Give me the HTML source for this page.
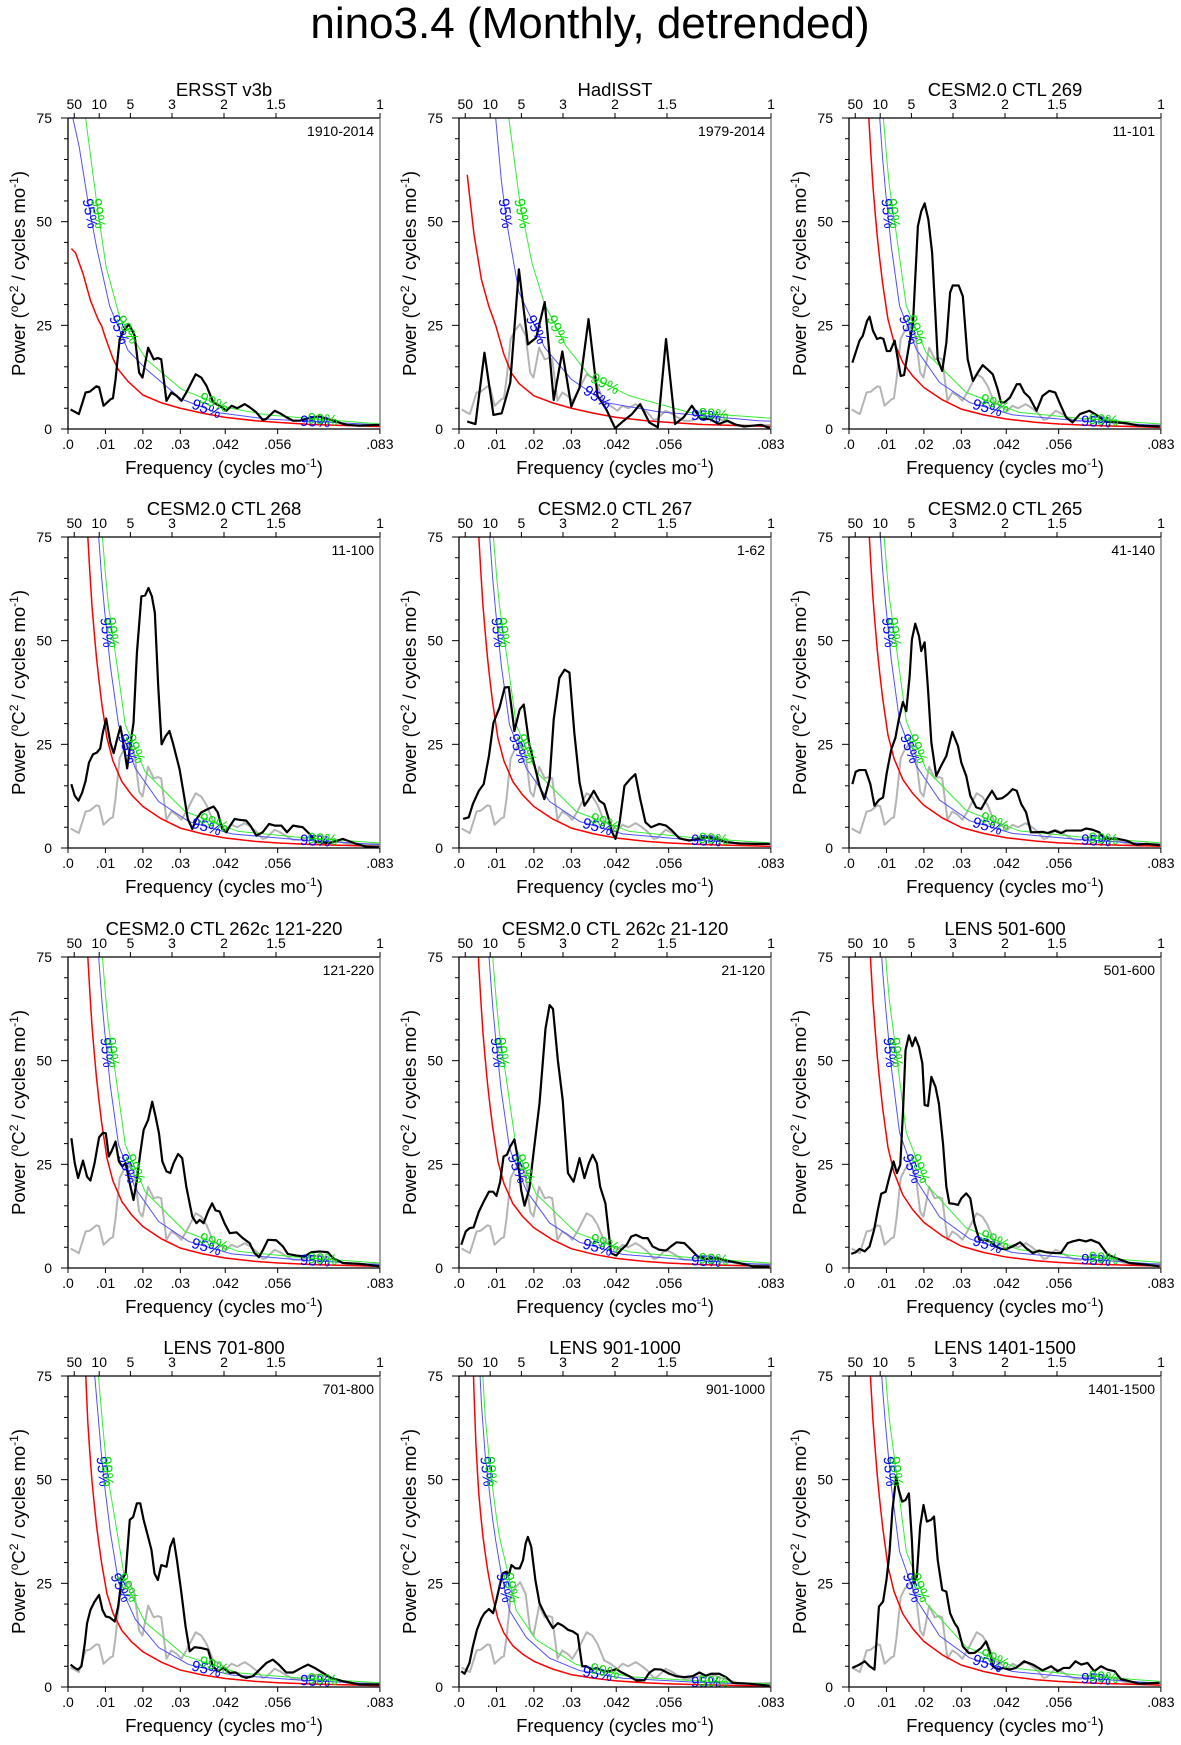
<!DOCTYPE html>
<html><head><meta charset="utf-8"><title>nino3.4 (Monthly, detrended)</title>
<style>
html,body{margin:0;padding:0;background:#fff;}
svg{display:block;font-family:"Liberation Sans",Arial,sans-serif;}
</style></head>
<body>
<svg id="chart" width="1181" height="1745" viewBox="0 0 1181 1745" xmlns="http://www.w3.org/2000/svg">
<defs><clipPath id="plotclip"><rect x="0" y="0" width="312" height="311"/></clipPath></defs>
<text x="590" y="38" font-size="44" text-anchor="middle" fill="#000">nino3.4 (Monthly, detrended)</text>
</svg>
<script>
// ---- axis data ----
const xTickVals = [0, 0.01, 0.02, 0.03, 0.042, 0.056, 0.0833];
const xTickLabels = [".0", ".01", ".02", ".03", ".042", ".056", ".083"];
const periodVals = [50, 10, 5, 3, 2, 1.5, 1];
const periodLabels = ["50", "10", "5", "3", "2", "1.5", "1"];
const yTickVals = [0, 25, 50, 75];
const panelTitles = ["ERSST v3b","HadISST","CESM2.0 CTL 269","CESM2.0 CTL 268","CESM2.0 CTL 267","CESM2.0 CTL 265","CESM2.0 CTL 262c 121-220","CESM2.0 CTL 262c 21-120","LENS 501-600","LENS 701-800","LENS 901-1000","LENS 1401-1500"];
const panelRanges = ["1910-2014","1979-2014","11-101","11-100","1-62","41-140","121-220","21-120","501-600","701-800","901-1000","1401-1500"];
const curveScale = [1,1,1,1,1,1.03,1,0.97,1.1,0.85,0.62,1.1];

// ---- significance curves ----
const ersstRedF = [.0009,.002,.004,.006,.008,.009,.01,.012,.0134,.016,.02,.025,.03,.036,.042,.05,.056,.065,.075,.0833];
const ersstRedV = [43.5,42.5,37.5,31,26.5,24.8,22,17,14.4,11.5,8.2,6.3,5,3.8,2.8,2,1.6,1.1,.8,.6];
const ersstBlueF = [.0013,.003,.0053,.0076,.0111,.016,.0209,.0303,.0396,.053,.0833];
const ersstBlueV = [75,68,55,44,29.7,19,14.4,7.2,4,2.4,1];
const ersstGreenF = [.0047,.0076,.0102,.0138,.0209,.0303,.0423,.053,.0833];
const ersstGreenV = [75,55,39,27,16.8,9.6,5.2,3.4,1.2];
const hadRedF = [.0022,.004,.006,.008,.0098,.012,.014,.016,.02,.025,.03,.036,.042,.05,.056,.065,.075,.0833];
const hadRedV = [61.3,47,36,29.5,25,18,13.5,11,8,6.3,5,3.8,2.8,2,1.6,1.1,.8,.6];
const hadBlueF = [.0098,.0113,.0127,.016,.0229,.03,.039,.053,.08,.0833];
const hadBlueV = [75,60,50,33,19.6,12,6.4,4.2,2,1.9];
const hadGreenF = [.0133,.0162,.0195,.0229,.0286,.0349,.0455,.0615,.0833];
const hadGreenV = [75,55,40,30,20,12.8,8,4,2.6];
const modelRedF = [.0025,.003,.0035,.004,.0045,.005,.0053,.0058,.0064,.007,.0076,.0082,.009,.0104,.012,.0144,.017,.02,.025,.03,.036,.042,.05,.0562,.065,.075,.0833];
const modelRedV = [230,180,140,115,95,82,75,67,58.5,52,46,41,35,26.5,21,16,12.8,10,7,4.8,3.4,2.4,1.6,1.2,.85,.6,.4];
const modelBlueF = [.0045,.005,.006,.007,.0082,.009,.0098,.0113,.0135,.018,.0242,.0322,.0437,.0615,.0833];
const modelBlueV = [160,140,110,90,75,65,57,44,29.7,19.2,11.2,6.4,3.4,2,.8];
const modelGreenF = [.0055,.006,.007,.008,.0092,.01,.0108,.0126,.0153,.0206,.0313,.0455,.0615,.0833];
const modelGreenV = [150,130,105,90,75,66,58.5,47.3,29.7,18.4,8.8,4,2.6,1.2];

// ---- spectra (black lines) ----
const p1Freq = [.0007,.0029,.0047,.0058,.0076,.0083,.0095,.0114,.012,.0127,.0138,.0149,.0163,.0178,.019,.0199,.0214,.0229,.024,.0249,.0263,.0276,.029,.0303,.0316,.0341,.0356,.037,.0388,.0405,.0423,.0437,.0452,.0472,.0486,.0503,.052,.0529,.0552,.0566,.0584,.0601,.0619,.065,.0673,.0708,.0744,.078,.0833];
const p1Power = [4.7,3.6,8.8,9,10.3,10.1,5.6,7.2,7.4,12,21.7,23.7,25.3,22.5,13.6,12.4,19.6,16.8,17.1,16.8,6.8,8.8,8,6.8,8.8,13.2,12.4,10.4,6.4,5.6,4.4,5.6,5,6,5.2,4,2.2,2.4,4.4,3.8,2.8,2,2,2.8,3,2,1,.8,1];
const p2Freq = [.0022,.0044,.0068,.0092,.0114,.0137,.016,.0184,.0206,.0229,.0253,.0276,.03,.0322,.0346,.037,.0393,.0417,.044,.0462,.0484,.0508,.0531,.0553,.0577,.06,.0622,.0646,.067,.0694,.0717,.074,.0762,.0784,.0807,.083];
const p2Power = [1.8,1.2,18.4,3.4,3.8,11.2,38.5,20.4,22,30.6,7,18.7,5.4,10,26.5,8,4.8,.2,2,3.6,6,1.6,.4,21.7,1.2,2.8,5.6,2.4,2.4,1.2,2,1,.6,.8,1,.2];
const p3Freq = [.0009,.0028,.0037,.0048,.0055,.0064,.0075,.0084,.0092,.0101,.011,.0122,.0138,.0147,.0157,.0171,.0184,.0193,.0202,.0212,.0222,.0231,.0237,.0249,.026,.027,.0277,.0293,.0304,.0317,.0331,.0344,.0357,.0371,.0384,.0397,.0406,.0415,.043,.0448,.0457,.0468,.0482,.0501,.0517,.0535,.0551,.0566,.058,.0597,.0617,.0642,.0664,.0686,.0713,.074,.0775,.083];
const p3Power = [16,21.3,22.5,26,27.1,23.7,21.7,22,21.7,18.8,18.8,21.3,12.8,13,18.4,25.7,48.9,52.5,54.4,50.5,42.5,27.3,16.8,14,20.8,32.9,34.6,34.6,32,16.8,11.6,13.6,15.4,14.3,13.2,9.6,6.4,6.4,7.6,10.8,10.8,8.8,7.6,4.4,8,9.2,8.8,5.6,2.8,1.6,3.6,4.4,3.2,1.8,1.6,1.4,.8,.6];
const p4Freq = [.0009,.0018,.0028,.0038,.0047,.0056,.0067,.0077,.0086,.0093,.0102,.0113,.0122,.0131,.014,.0149,.0158,.0166,.0175,.0184,.0196,.0206,.0215,.0224,.0232,.0241,.025,.0261,.0271,.028,.0298,.031,.032,.0332,.0343,.0356,.0374,.0389,.04,.0412,.0423,.0433,.0445,.0458,.0476,.0487,.0503,.052,.0537,.0552,.057,.0585,.0601,.0627,.0645,.0663,.0699,.0734,.077,.0797,.083];
const p4Power = [15.4,12.6,11.4,13.4,16.2,20.6,22.6,23,24,27.8,31.2,25.4,22.9,26.2,29.3,24.6,19.2,24.6,30.2,47,60.7,60.9,62.7,60.7,56.7,39,25,27,28.2,25.4,19,12.6,7,4.6,7,8.6,9.4,10,8.6,4.6,3.8,5.4,7,6.8,6.6,5.4,3,3.8,5.8,5.4,5.4,3.8,5.4,5,3.4,1.4,1.2,2.2,1,.3,.3];
const p5Freq = [.0011,.0026,.0037,.0053,.0066,.008,.0092,.0108,.0122,.0133,.0142,.0148,.0162,.0173,.0187,.0202,.0215,.0228,.0242,.0253,.0268,.0282,.0295,.0308,.0322,.0335,.0347,.036,.0375,.0388,.04,.0409,.0418,.0429,.0442,.0457,.0471,.0484,.0498,.0513,.0535,.0553,.0569,.0589,.0615,.0642,.0664,.0686,.0713,.0749,.0793,.083];
const p5Power = [7,7.4,10.6,13.8,15.4,22.2,30.2,33.8,38.7,38.8,32.6,28.2,33.4,34.6,25.4,19.8,15,11.8,16.6,31,41,43,42.3,27.8,15.8,10.2,11.8,13.8,11.4,10.6,7,3.8,2.2,6.2,15,16.6,17.8,11.8,6.2,5,5.8,5.4,4.2,2.3,1.8,2.2,2.6,2.2,1.4,1.1,1,1];
const p6Freq = [.0009,.0018,.0028,.0044,.0057,.0068,.008,.0091,.0101,.0113,.0124,.0133,.0144,.0153,.0162,.0168,.0177,.0187,.0193,.0202,.0211,.022,.0233,.0246,.026,.0276,.0291,.03,.0313,.0324,.034,.0353,.0368,.0382,.0395,.0409,.0424,.0437,.0448,.046,.0473,.0486,.05,.0517,.0531,.0549,.0566,.058,.0597,.062,.0633,.0651,.0668,.0682,.0695,.0713,.074,.0766,.0793,.083];
const p6Power = [15.4,18.4,18.8,18.8,15.4,10.2,11.6,12.2,18.2,23.8,26.6,31,35.2,33,41.5,50.3,54.1,51.1,47.5,49.6,38.3,25.4,17.4,19.8,22.2,28,24.6,20.6,17.4,12.6,9.8,9.4,11.8,13.8,11.8,12,13,14.2,13.8,10.6,8.6,3.8,3.8,3.9,3.6,4.2,3.6,4.2,4.2,4.2,4.7,4.4,3.8,2.3,2.2,2.3,1.8,.8,1,.7];
const p7Freq = [.0009,.0018,.0027,.004,.0051,.006,.0071,.0083,.0093,.0101,.0109,.0116,.0127,.0136,.0145,.0154,.0165,.0175,.0184,.0193,.0202,.0214,.0225,.0234,.0243,.0252,.0263,.0273,.0282,.0294,.0305,.0316,.0332,.0343,.0352,.0362,.0374,.0385,.0394,.0405,.0418,.0432,.045,.0467,.0485,.0498,.051,.0521,.0534,.0556,.0574,.0587,.061,.0632,.065,.0672,.0694,.0708,.0734,.0779,.0832];
const p7Power = [31.3,25.3,21.7,25.9,22,21.1,25.3,31.5,32.6,32.5,26.9,28.1,30.5,25.7,24.5,25.3,20.4,16.4,21.2,27.7,33.3,35.7,40.1,36.5,32.5,25.7,23.3,22.9,25.3,27.5,26.5,19.6,12.4,10.8,11.6,10.8,13.6,15.6,13.9,13.6,10.8,8.4,8.6,7.2,6,3.6,2.6,4.4,6.8,6.7,5.2,3.4,3,2.8,3.8,4,3.8,2.4,1.2,1,.4];
const p8Freq = [.0006,.0018,.0028,.0039,.0053,.0066,.008,.0091,.01,.011,.0119,.0128,.0137,.0148,.0157,.0166,.0175,.0188,.0199,.0215,.0231,.0242,.0251,.0264,.0277,.0291,.0306,.0322,.0335,.0347,.0357,.0368,.0377,.0391,.0406,.042,.0433,.0448,.046,.0473,.0491,.0504,.0517,.0535,.0553,.0566,.0581,.0602,.062,.0637,.066,.0686,.0713,.0749,.0784,.0829];
const p8Power = [5.6,8.8,9.6,9.8,13.6,16,18.4,18.4,17.4,20.8,26.9,27.3,29.3,31,26.5,18.8,15,19.2,27.7,39.7,57.7,63.4,62.5,50.1,40.5,22.9,20.8,26.5,21.7,25.3,27.3,25.3,19.6,15.6,3.6,3,4.4,5.6,7.6,8,7.2,7.2,5.2,4.4,4.2,5.2,6.2,6,4.4,2.8,2.2,2.4,1.8,1.2,.4,.4];
const p9Freq = [.0006,.0018,.0028,.0042,.0055,.0067,.0077,.0086,.0098,.0108,.0119,.0128,.0137,.0144,.0151,.016,.0169,.0177,.0187,.0196,.0202,.0211,.022,.0231,.024,.0251,.026,.0268,.0279,.0291,.03,.0313,.0324,.0335,.0348,.0362,.0375,.0393,.0406,.042,.0437,.0457,.0473,.0491,.0508,.0526,.0549,.0566,.0584,.0597,.0615,.0633,.0646,.0668,.0691,.0713,.0749,.0793,.0829];
const p9Power = [3.4,3.8,4.6,4,5.2,9.2,14,17.9,18.4,22,25.7,22.9,24.9,37.3,52.5,56.1,53.5,55.6,53.3,49.3,39.3,39.1,46.1,43.7,39.7,30.1,19.6,15.6,15.5,15.2,16.8,18,16.8,10.8,6.8,6.8,6.4,5.2,4.6,4.6,5.2,6.2,4.8,3.6,4.2,3.8,3.6,3.6,6,6.4,6.8,6.4,6.8,6,3.2,2.4,1.2,.8,.4];
const p10Freq = [.0007,.0018,.0027,.0036,.0045,.0051,.006,.0071,.0083,.0092,.0101,.0111,.0125,.0134,.0143,.0154,.0165,.0174,.0184,.0193,.0202,.0214,.0223,.0231,.024,.0249,.0263,.0273,.0282,.0291,.0303,.0314,.0325,.0338,.0356,.0374,.0387,.04,.0414,.0432,.0448,.0463,.0476,.0494,.0512,.053,.0547,.0563,.0583,.0601,.0623,.0641,.0659,.0681,.0703,.0734,.0779,.0832];
const p10Power = [5.4,4.6,4.2,5,10.6,15.4,18.6,20.6,22.2,18.6,17,16.8,15.8,19.4,25.8,27.4,40.3,41,44.3,44.3,40.3,36.2,33,27.4,25.8,29.4,29,33.8,35.8,30.6,22.6,14.6,8.6,9.6,9.4,9,5,3.8,4.6,3.4,3.5,2.6,2.2,2.6,4.2,5.8,6.6,5.4,3.5,3.5,4.6,5.4,4.6,3.4,2.2,1.4,.6,.6];
const p11Freq = [.0006,.0015,.0028,.0037,.0048,.006,.0068,.008,.0091,.01,.0108,.0117,.0126,.0133,.014,.0151,.0162,.0171,.0178,.0184,.0193,.0204,.0215,.0228,.024,.0251,.0264,.0277,.0291,.0304,.0317,.0329,.034,.0356,.0368,.0384,.0402,.042,.0437,.0455,.0473,.0495,.0508,.0522,.054,.0562,.058,.0602,.0624,.0642,.066,.0673,.0695,.0713,.0731,.0775,.0829];
const p11Power = [3.8,3.2,5.8,9.8,13.8,16.6,17.8,18.8,17.8,21,24.2,27.4,27.8,27,29.4,28.6,28.6,30.6,34.6,36.2,33.8,25.8,20.2,17.8,15.8,14.2,15.4,14.8,13.8,13.4,12.6,5,5,4.2,4.6,3.8,3.8,4.3,3.4,2.6,1.6,1.6,3.4,4.3,4.2,3.2,2.6,2.4,2.6,3.5,2.7,3.2,3.2,2.4,1,.8,.3];
const p12Freq = [.0009,.0028,.0042,.0055,.0068,.008,.0091,.01,.0108,.0116,.0122,.0126,.0133,.0142,.0151,.016,.0168,.0173,.0181,.019,.0199,.0208,.0219,.0227,.0237,.0249,.026,.027,.0282,.0291,.0304,.032,.0335,.0353,.0366,.0377,.0384,.0397,.0412,.0428,.0446,.0468,.0491,.0517,.054,.0557,.0573,.0589,.0605,.062,.0637,.0655,.0673,.069,.0709,.0726,.0749,.0775,.0829];
const p12Power = [4.6,5.4,6.2,5,4.2,19.4,20.6,25.8,32.2,42.7,47.5,50.7,47.5,44.7,45.1,46.7,35.4,25,26.6,38.7,43.9,39.9,40.3,41.1,30.6,23.4,23,17.8,15.4,14.2,9.8,8.2,8.2,9.4,11,8.2,5,4.2,4.6,4.2,4.6,6.2,5.4,4,5,3.8,4.6,4.6,6.2,5.4,5.8,3.8,5,4.2,3.8,1.9,1.4,.8,1];

const specFreq = [p1Freq,p2Freq,p3Freq,p4Freq,p5Freq,p6Freq,p7Freq,p8Freq,p9Freq,p10Freq,p11Freq,p12Freq];
const specPower = [p1Power,p2Power,p3Power,p4Power,p5Power,p6Power,p7Power,p8Power,p9Power,p10Power,p11Power,p12Power];

// ---- layout ----
const NS = "http://www.w3.org/2000/svg";
const svg = document.getElementById("chart");
const PW = 312, PH = 311, FMAX = 1/12, YMAX = 75;
const colLeft = [68, 459, 849];
const rowTop = [118, 537, 957, 1376];
function xs(f){ return f / FMAX * PW; }
function ys(v){ return PH - v / YMAX * PH; }
function mk(tag, attrs, parent){
  const e = document.createElementNS(NS, tag);
  for (const k in attrs) e.setAttribute(k, attrs[k]);
  parent.appendChild(e);
  return e;
}
function pathD(F, V, s){
  let d = "";
  for (let i = 0; i < F.length; i++){
    d += (i ? "L" : "M") + xs(F[i]).toFixed(2) + "," + ys(V[i] * s).toFixed(2);
  }
  return d;
}
function pointAtValue(F, V, s, target){
  for (let i = 0; i < F.length - 1; i++){
    const a = V[i]*s, b = V[i+1]*s;
    if ((a - target) * (b - target) <= 0 && a !== b){
      const t = (a - target) / (a - b);
      const x1 = xs(F[i]), x2 = xs(F[i+1]), y1 = ys(a), y2 = ys(b);
      return {x: x1 + t*(x2-x1), y: y1 + t*(y2-y1), ang: Math.atan2(y2-y1, x2-x1)*180/Math.PI};
    }
  }
  return null;
}
function pointAtFreq(F, V, s, f){
  for (let i = 0; i < F.length - 1; i++){
    if (f >= F[i] && f <= F[i+1]){
      const t = (f - F[i]) / (F[i+1] - F[i]);
      const x1 = xs(F[i]), x2 = xs(F[i+1]), y1 = ys(V[i]*s), y2 = ys(V[i+1]*s);
      return {x: x1 + t*(x2-x1), y: y1 + t*(y2-y1), ang: Math.atan2(y2-y1, x2-x1)*180/Math.PI};
    }
  }
  return null;
}
function curveLabel(g, p, txt, color){
  if (!p) return;
  const t = mk("text", {x: 0, y: 5, "font-size": 15, fill: color, "text-anchor": "middle",
    transform: "translate(" + p.x.toFixed(1) + "," + p.y.toFixed(1) + ") rotate(" + p.ang.toFixed(1) + ")"}, g);
  
  
  t.textContent = txt;
}

for (let k = 0; k < 12; k++){
  const left = colLeft[k % 3], top = rowTop[Math.floor(k / 3)];
  const panel = mk("g", {transform: "translate(" + left + "," + top + ")"}, svg);
  
  

  const title = mk("text", {x: PW/2, y: -22, "font-size": 18.5, "text-anchor": "middle", fill: "#000"}, panel);
  
  
  title.textContent = panelTitles[k];

  for (let i = 0; i < periodVals.length; i++){
    const x = xs(1 / (12 * periodVals[i]));
    const tk = mk("line", {x1: x, y1: 0, x2: x, y2: -5, stroke: "#000", "stroke-width": 1}, panel);
    
    
    const lb = mk("text", {x: x, y: -9, "font-size": 14, "text-anchor": "middle", fill: "#000"}, panel);
    
    
    lb.textContent = periodLabels[i];
  }
  for (let i = 0; i < xTickVals.length; i++){
    const x = xs(xTickVals[i]);
    const tk = mk("line", {x1: x, y1: PH, x2: x, y2: PH + 5, stroke: "#000", "stroke-width": 1}, panel);
    
    
    const lb = mk("text", {x: x, y: PH + 20, "font-size": 14, "text-anchor": "middle", fill: "#000"}, panel);
    
    
    lb.textContent = xTickLabels[i];
  }
  for (let v = 0; v <= 75; v += 5){
    const y = ys(v), major = yTickVals.indexOf(v) >= 0;
    const tk = mk("line", {x1: 0, y1: y, x2: major ? -7 : -4, y2: y, stroke: "#000", "stroke-width": 1}, panel);
    
    
  }
  for (let i = 0; i < yTickVals.length; i++){
    const lb = mk("text", {x: -16, y: ys(yTickVals[i]) + 5, "font-size": 14, "text-anchor": "end", fill: "#000"}, panel);
    
    
    lb.textContent = String(yTickVals[i]);
  }
  const xt = mk("text", {x: PW/2, y: PH + 45, "font-size": 18.5, "text-anchor": "middle", fill: "#000"}, panel);
  
  
  xt.innerHTML = 'Frequency (cycles mo<tspan font-size="12" dy="-7">-1</tspan><tspan dy="7">)</tspan>';
  const yt = mk("text", {x: 0, y: 0, "font-size": 18.5, "text-anchor": "middle", fill: "#000",
    transform: "translate(-43," + (PH/2) + ") rotate(-90)"}, panel);
  
  
  yt.innerHTML = 'Power (<tspan font-size="12" dy="-7">o</tspan><tspan dy="7">C</tspan><tspan font-size="12" dy="-7">2</tspan><tspan dy="7"> / cycles mo</tspan><tspan font-size="12" dy="-7">-1</tspan><tspan dy="7">)</tspan>';

  const rl = mk("text", {x: PW - 6, y: 18, "font-size": 14, "text-anchor": "end", fill: "#000"}, panel);
  
  
  rl.textContent = panelRanges[k];

  const plot = mk("g", {"clip-path": "url(#plotclip)"}, panel);
  
  
  let RF, RV, BF, BV, GF, GV;
  if (k === 0){ RF = ersstRedF; RV = ersstRedV; BF = ersstBlueF; BV = ersstBlueV; GF = ersstGreenF; GV = ersstGreenV; }
  else if (k === 1){ RF = hadRedF; RV = hadRedV; BF = hadBlueF; BV = hadBlueV; GF = hadGreenF; GV = hadGreenV; }
  else { RF = modelRedF; RV = modelRedV; BF = modelBlueF; BV = modelBlueV; GF = modelGreenF; GV = modelGreenV; }
  const s = curveScale[k];

  if (k > 0){
    const gr = mk("path", {d: pathD(p1Freq, p1Power, 1), fill: "none", stroke: "#b4b4b4", "stroke-width": 2, "stroke-linejoin": "round"}, plot);
    
    
  }
  const red = mk("path", {d: pathD(RF, RV, s), fill: "none", stroke: "#ff0000", "stroke-width": 1.5, "stroke-linejoin": "round"}, plot);
  
  
  const blue = mk("path", {d: pathD(BF, BV, s), fill: "none", stroke: "#5050ff", "stroke-width": 1}, plot);
  
  
  const green = mk("path", {d: pathD(GF, GV, s), fill: "none", stroke: "#33ee33", "stroke-width": 1}, plot);
  
  

  const blk = mk("path", {d: pathD(specFreq[k], specPower[k], 1), fill: "none", stroke: "#000", "stroke-width": 2.2, "stroke-linejoin": "round"}, plot);
  
  

  const lab = mk("g", {"clip-path": "url(#plotclip)"}, panel);
  
  
  curveLabel(lab, pointAtValue(BF, BV, s, 52), "95%", "#0000ff");
  curveLabel(lab, pointAtValue(GF, GV, s, 52), "99%", "#00dd00");
  curveLabel(lab, pointAtValue(BF, BV, s, 24), "95%", "#0000ff");
  curveLabel(lab, pointAtValue(GF, GV, s, 24), "99%", "#00dd00");
  curveLabel(lab, pointAtFreq(BF, BV, s, 0.037), "95%", "#0000ff");
  curveLabel(lab, pointAtFreq(GF, GV, s, 0.039), "99%", "#00dd00");
  curveLabel(lab, pointAtFreq(BF, BV, s, 0.066), "95%", "#0000ff");
  curveLabel(lab, pointAtFreq(GF, GV, s, 0.068), "99%", "#00dd00");

  const fr = mk("g", {}, panel);
  
  
  mk("line", {x1: 0, y1: 0, x2: PW, y2: 0, stroke: "#000", "stroke-width": 1.3}, fr);
  mk("line", {x1: 0, y1: PH, x2: PW, y2: PH, stroke: "#000", "stroke-width": 1.3}, fr);
  mk("line", {x1: 0, y1: 0, x2: 0, y2: PH, stroke: "#000", "stroke-width": 1.3}, fr);
  mk("line", {x1: PW, y1: 0, x2: PW, y2: PH, stroke: "#777", "stroke-width": 1.3}, fr);
}
</script>
</body></html>
